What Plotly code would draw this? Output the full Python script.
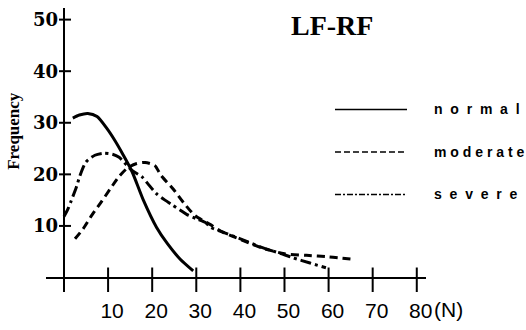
import plotly.graph_objects as go

# Frequency distributions of the LF-RF difference (N) for three groups
normal_n = [2, 3.5, 5.4, 7.5, 9.8, 11.5, 13.4, 15.4, 18, 21, 23.5, 26.3, 29.3]
normal_f = [30.9, 31.5, 31.8, 31.2, 28.8, 26.6, 23.8, 20.6, 15.0, 9.7, 6.5, 3.6, 1.3]

moderate_n = [2.5, 4.3, 6.4, 8.5, 10.5, 12.5, 14.5, 16.5, 18.4, 20.6, 22, 24.7, 27.4,
              29.7, 33.1, 36, 42, 45, 50, 55, 60, 66]
moderate_f = [7.5, 9.4, 12.2, 14.7, 17.2, 19.6, 21.3, 22.1, 22.3, 21.7, 19.8, 17.2, 14.2,
              12.0, 10.3, 8.8, 6.7, 5.7, 4.6, 4.3, 4.0, 3.5]

severe_n = [0, 0.9, 1.6, 2.8, 3.6, 5, 7, 9, 11, 12.5, 14.2, 15.5, 17.7, 19, 20.9, 22.9,
            24.7, 26.3, 27.9, 30, 32, 33.3, 36, 40, 45, 49.7, 52, 55.8, 59.4]
severe_f = [11.8, 13.3, 14.8, 17.5, 19.7, 22.4, 23.7, 24.1, 23.9, 23.3, 21.8, 20.7, 19.5,
            18.2, 16.3, 15.0, 14.0, 13.1, 12.2, 11.4, 10.7, 9.7, 8.8, 7.5, 5.8, 4.5, 3.8,
            2.8, 1.9]

series_names = ["normal", "moderate", "severe"]
legend_labels = ["n  o  r  m  a  l", "m o d e r a t e", "s  e  v  e  r  e"]

x_ticks = [10, 20, 30, 40, 50, 60, 70, 80]
x_tick_labels = ["10", "20", "30", "40", "50", "60", "70", "80"]
y_ticks = [10, 20, 30, 40, 50]
y_tick_labels = ["10", "20", "30", "40", "50"]

curve_dash = ["solid", "8px,5px", "11px,4px,3px,4px"]
legend_dash = ["solid", "6px,3px", "6px,2px,2px,2px"]

SERIF = "Liberation Serif"
HEAVY_SERIF = "DejaVu Serif"
SANS = "Liberation Sans"

fig = go.Figure()
for name, xs, ys, dash in zip(series_names,
                              [normal_n, moderate_n, severe_n],
                              [normal_f, moderate_f, severe_f],
                              curve_dash):
    fig.add_trace(go.Scatter(
        x=xs, y=ys, name=name, mode="lines",
        line=dict(color="black", width=3, dash=dash, shape="spline", smoothing=0.7),
        showlegend=False, hoverinfo="skip",
    ))

shapes = []
annotations = []
# crossing tick marks and bold labels on the y axis
for v, lab in zip(y_ticks, y_tick_labels):
    shapes.append(dict(type="line", xref="x", yref="y", xsizemode="pixel", xanchor=0,
                       x0=-5, x1=7, y0=v, y1=v, line=dict(color="black", width=2)))
    annotations.append(dict(text="<b>" + lab + "</b>", xref="x", yref="y", x=0, y=v,
                            xanchor="right", yanchor="middle", xshift=-4, showarrow=False,
                            font=dict(family=HEAVY_SERIF, size=18, color="black")))
# crossing tick marks on the x axis
for v in x_ticks:
    shapes.append(dict(type="line", xref="x", yref="y", ysizemode="pixel", yanchor=0,
                       y0=-15, y1=10, x0=v, x1=v, line=dict(color="black", width=2)))

# hand-drawn legend samples
legend_y = [0.643, 0.493, 0.3435]
for label, dash, ly in zip(legend_labels, legend_dash, legend_y):
    shapes.append(dict(type="line", xref="paper", yref="paper", x0=0.7605, x1=0.95,
                       y0=ly, y1=ly, line=dict(color="black", width=1.5, dash=dash)))
    annotations.append(dict(text="<b>" + label + "</b>", xref="paper", yref="paper",
                            x=1.0158, y=ly, xanchor="left", yanchor="middle",
                            showarrow=False,
                            font=dict(family=SANS, size=14, color="black")))

annotations.append(dict(text="<b>LF-RF</b>", xref="paper", yref="paper", x=0.7526, y=0.939,
                        xanchor="center", yanchor="middle", showarrow=False,
                        font=dict(family=SERIF, size=28, color="black")))
annotations.append(dict(text="<b>Frequency</b>", xref="paper", yref="paper", x=-0.084,
                        y=0.568, xanchor="center", yanchor="middle", textangle=-90,
                        showarrow=False,
                        font=dict(family=SERIF, size=17, color="black")))
annotations.append(dict(text="(N)", xref="x", yref="paper", x=80, y=0, xshift=15,
                        xanchor="left", yanchor="top", yshift=-4, showarrow=False,
                        font=dict(family=SANS, size=21, color="black")))

fig.update_layout(
    width=526, height=330,
    margin=dict(l=46, r=100, t=8, b=28, pad=0),
    paper_bgcolor="white", plot_bgcolor="white",
    font=dict(family=SERIF, color="black"),
    shapes=shapes, annotations=annotations,
    xaxis=dict(range=[-4.08, 82.09], showgrid=False, showline=False,
               zeroline=True, zerolinecolor="black", zerolinewidth=2,
               tickmode="array", tickvals=x_ticks, ticktext=x_tick_labels,
               ticks="", ticklabelshift=4, ticklabelstandoff=4,
               tickfont=dict(family=SANS, size=21, color="black")),
    yaxis=dict(range=[-2.81, 52.25], showgrid=False, showline=False,
               zeroline=True, zerolinecolor="black", zerolinewidth=2,
               showticklabels=False, ticks=""),
)

fig.write_html("out.html")
